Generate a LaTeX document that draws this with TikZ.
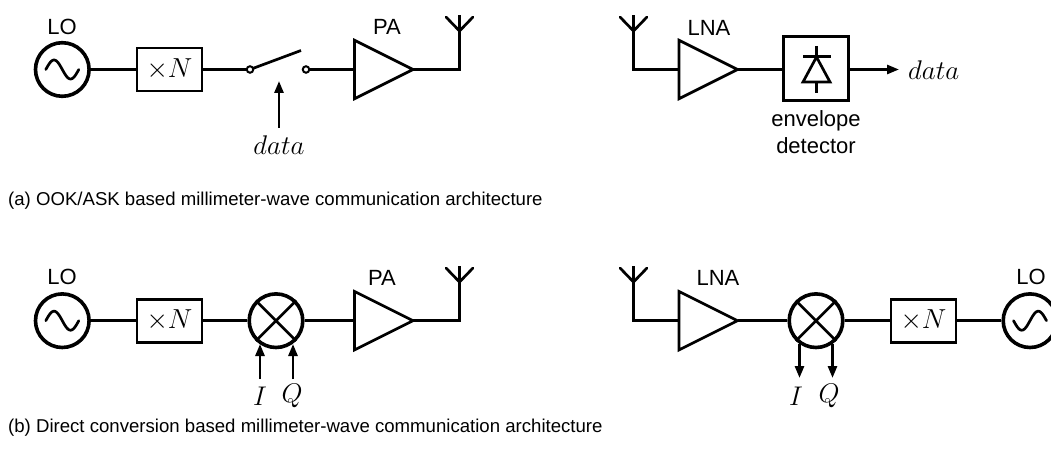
\documentclass[tikz,border=0pt]{standalone}
\usepackage{fix-cm}
\usepackage{fontspec}
\setmainfont{Liberation Sans}
\usetikzlibrary{arrows.meta,shapes.geometric}
\tikzset{
  wire/.style={line width=2.7pt,line cap=butt},
  arr/.style={wire,-{Triangle[length=12pt,width=9pt]}},
  lbl/.style={font=\fontsize{22}{24}\selectfont,inner sep=0pt},
  mth/.style={font=\fontsize{27}{30}\selectfont,inner sep=0pt},
  captxt/.style={font=\fontsize{18.6}{20}\selectfont,inner sep=0pt,anchor=west},
  osc/.style={circle,draw,line width=3.6pt,minimum size=53.6pt,inner sep=0pt,outer sep=1.8pt},
  mixer/.style={circle,draw,line width=3.6pt,minimum size=53.6pt,inner sep=0pt,outer sep=1.8pt},
  multbox/.style={rectangle,draw,line width=2.7pt,minimum width=65pt,minimum height=43pt,inner sep=0pt,font=\fontsize{27.5}{30}\selectfont},
  envbox/.style={rectangle,draw,line width=3pt,minimum width=65pt,minimum height=64pt,inner sep=0pt},
  amp/.style={isosceles triangle,isosceles triangle stretches,draw,line width=2.7pt,minimum width=58.5pt,minimum height=58.5pt,inner sep=0pt,outer sep=0pt,anchor=lower side},
  contact/.style={circle,draw,line width=2pt,fill=white,minimum size=6.5pt,inner sep=0pt,outer sep=0pt},
  sinew/.style={line width=2.7pt,line cap=round}
}
\newcommand{\sinewave}[2]{\draw[sinew,shift={(#1)}] plot[domain=-1:1,samples=41,smooth] ({\x*16.5},{#2*9.5*sin(180*\x)});}
\newcommand{\antennaup}[2]{%
  \coordinate (#1s) at (#2,\antbase);
  \draw[wire] (#1s) -- ++(0,-16);
  \draw[wire,line cap=round] (#1s) ++(-13.5,-14) -- ++(13.5,14) -- ++(13.5,-14);
}
\begin{document}
\begin{tikzpicture}[x=1pt,y=-1pt]
\useasboundingbox (0,0) rectangle (1051,462);
% ---- (a) transmitter
\node[osc] (lo1) at (62.3,69.5) {};
\sinewave{lo1.center}{1}
\node[lbl] (lo1t) at (62,27) {LO};
\node[multbox] (n1) at (169.5,69.5) {$\times N$};
\node[contact] (s1) at (250,69.5) {};
\node[contact] (s2) at (306,69.5) {};
\coordinate (stip) at (301,50.5);
\draw[wire] (lo1) -- (n1);
\draw[wire] (n1) -- (s1);
\draw[wire] (s1) -- (stip);
\node[amp] (pa1) at (354.5,69.5) {};
\draw[wire] (s2) -- (pa1.lower side);
\node[lbl] (pa1t) at (387,27) {PA};
\def\antbase{31}
\antennaup{a1}{459.5}
\draw[wire] (pa1.apex) -| (a1s);
\node[mth] (d1) at (279,145) {$data$};
\coordinate (d1e) at (279,81);
\coordinate (d1b) at (279,128);
\draw[arr] (d1b) -- (d1e);
% ---- (a) receiver
\antennaup{a2}{633.5}
\node[amp] (lna1) at (679,69.5) {};
\draw[wire] (a2s) |- (lna1.lower side);
\node[lbl] (lna1t) at (709,28) {LNA};
\node[envbox] (env) at (816,69) {};
\draw[wire] (lna1.apex) -- (env.west |- lna1.apex);
\coordinate (dtop) at (816.5,46);
\coordinate (dbot) at (816.5,93);
\draw[wire] (dtop) -- (816.5,57);
\draw[wire] (803,56.5) -- (831,56.5);
\draw[wire,line join=miter] (816.5,57) -- (803,82) -- (830,82) -- cycle;
\draw[wire] (816.5,82) -- (dbot);
\node[mth,anchor=west] (d2) at (908,70) {$data$};
\coordinate (d2e) at (899,69.5);
\draw[arr] (env.east |- d2e) -- (d2e);
\node[lbl] (envt1) at (816,121) {envelope};
\node[lbl] (envt2) at (816,146) {detector};
\node[captxt] (capa) at (8,201) {(a) OOK/ASK based millimeter-wave communication architecture};
% ---- (b) transmitter
\node[osc] (lo2) at (62.3,320.7) {};
\sinewave{lo2.center}{1}
\node[lbl] (lo2t) at (62,277) {LO};
\node[multbox] (n2) at (169.5,320.7) {$\times N$};
\node[mixer] (m1) at (276,320.7) {};
\draw[wire] (m1.45) -- (m1.225) (m1.135) -- (m1.315);
\draw[wire] (lo2) -- (n2);
\draw[wire] (n2) -- (m1);
\node[amp] (pa2) at (354.5,320.7) {};
\draw[wire] (m1) -- (pa2.lower side);
\node[lbl] (pa2t) at (382,278) {PA};
\def\antbase{282}
\antennaup{a3}{459.5}
\draw[wire] (pa2.apex) -| (a3s);
\node[mth] (i1) at (260,396) {$I$};
\node[mth] (q1) at (292,396) {$Q$};
\coordinate (i1b) at (260,379);
\coordinate (i1e) at (260,344);
\coordinate (q1b) at (293,379);
\coordinate (q1e) at (293,344);
\draw[arr] (i1b) -- (i1e);
\draw[arr] (q1b) -- (q1e);
% ---- (b) receiver
\antennaup{a4}{633.5}
\node[amp] (lna2) at (679,320.7) {};
\draw[wire] (a4s) |- (lna2.lower side);
\node[lbl] (lna2t) at (718,278) {LNA};
\node[mixer] (m2) at (816,320.7) {};
\draw[wire] (m2.45) -- (m2.225) (m2.135) -- (m2.315);
\draw[wire] (lna2.apex) -- (m2);
\node[multbox] (n3) at (923.5,320.7) {$\times N$};
\draw[wire] (m2) -- (n3);
\node[osc] (lo3) at (1030,320.7) {};
\sinewave{lo3.center}{-1}
\draw[wire] (n3) -- (lo3);
\node[lbl] (lo3t) at (1031,277) {LO};
\node[mth] (i2) at (796,396) {$I$};
\node[mth] (q2) at (829,396) {$Q$};
\coordinate (i2b) at (799.5,344);
\coordinate (i2e) at (799.5,378);
\coordinate (q2b) at (832.5,344);
\coordinate (q2e) at (832.5,378);
\draw[arr] (i2b) -- (i2e);
\draw[arr] (q2b) -- (q2e);
\node[captxt] (capb) at (8,428) {(b) Direct conversion based millimeter-wave communication architecture};
\end{tikzpicture}
\end{document}
